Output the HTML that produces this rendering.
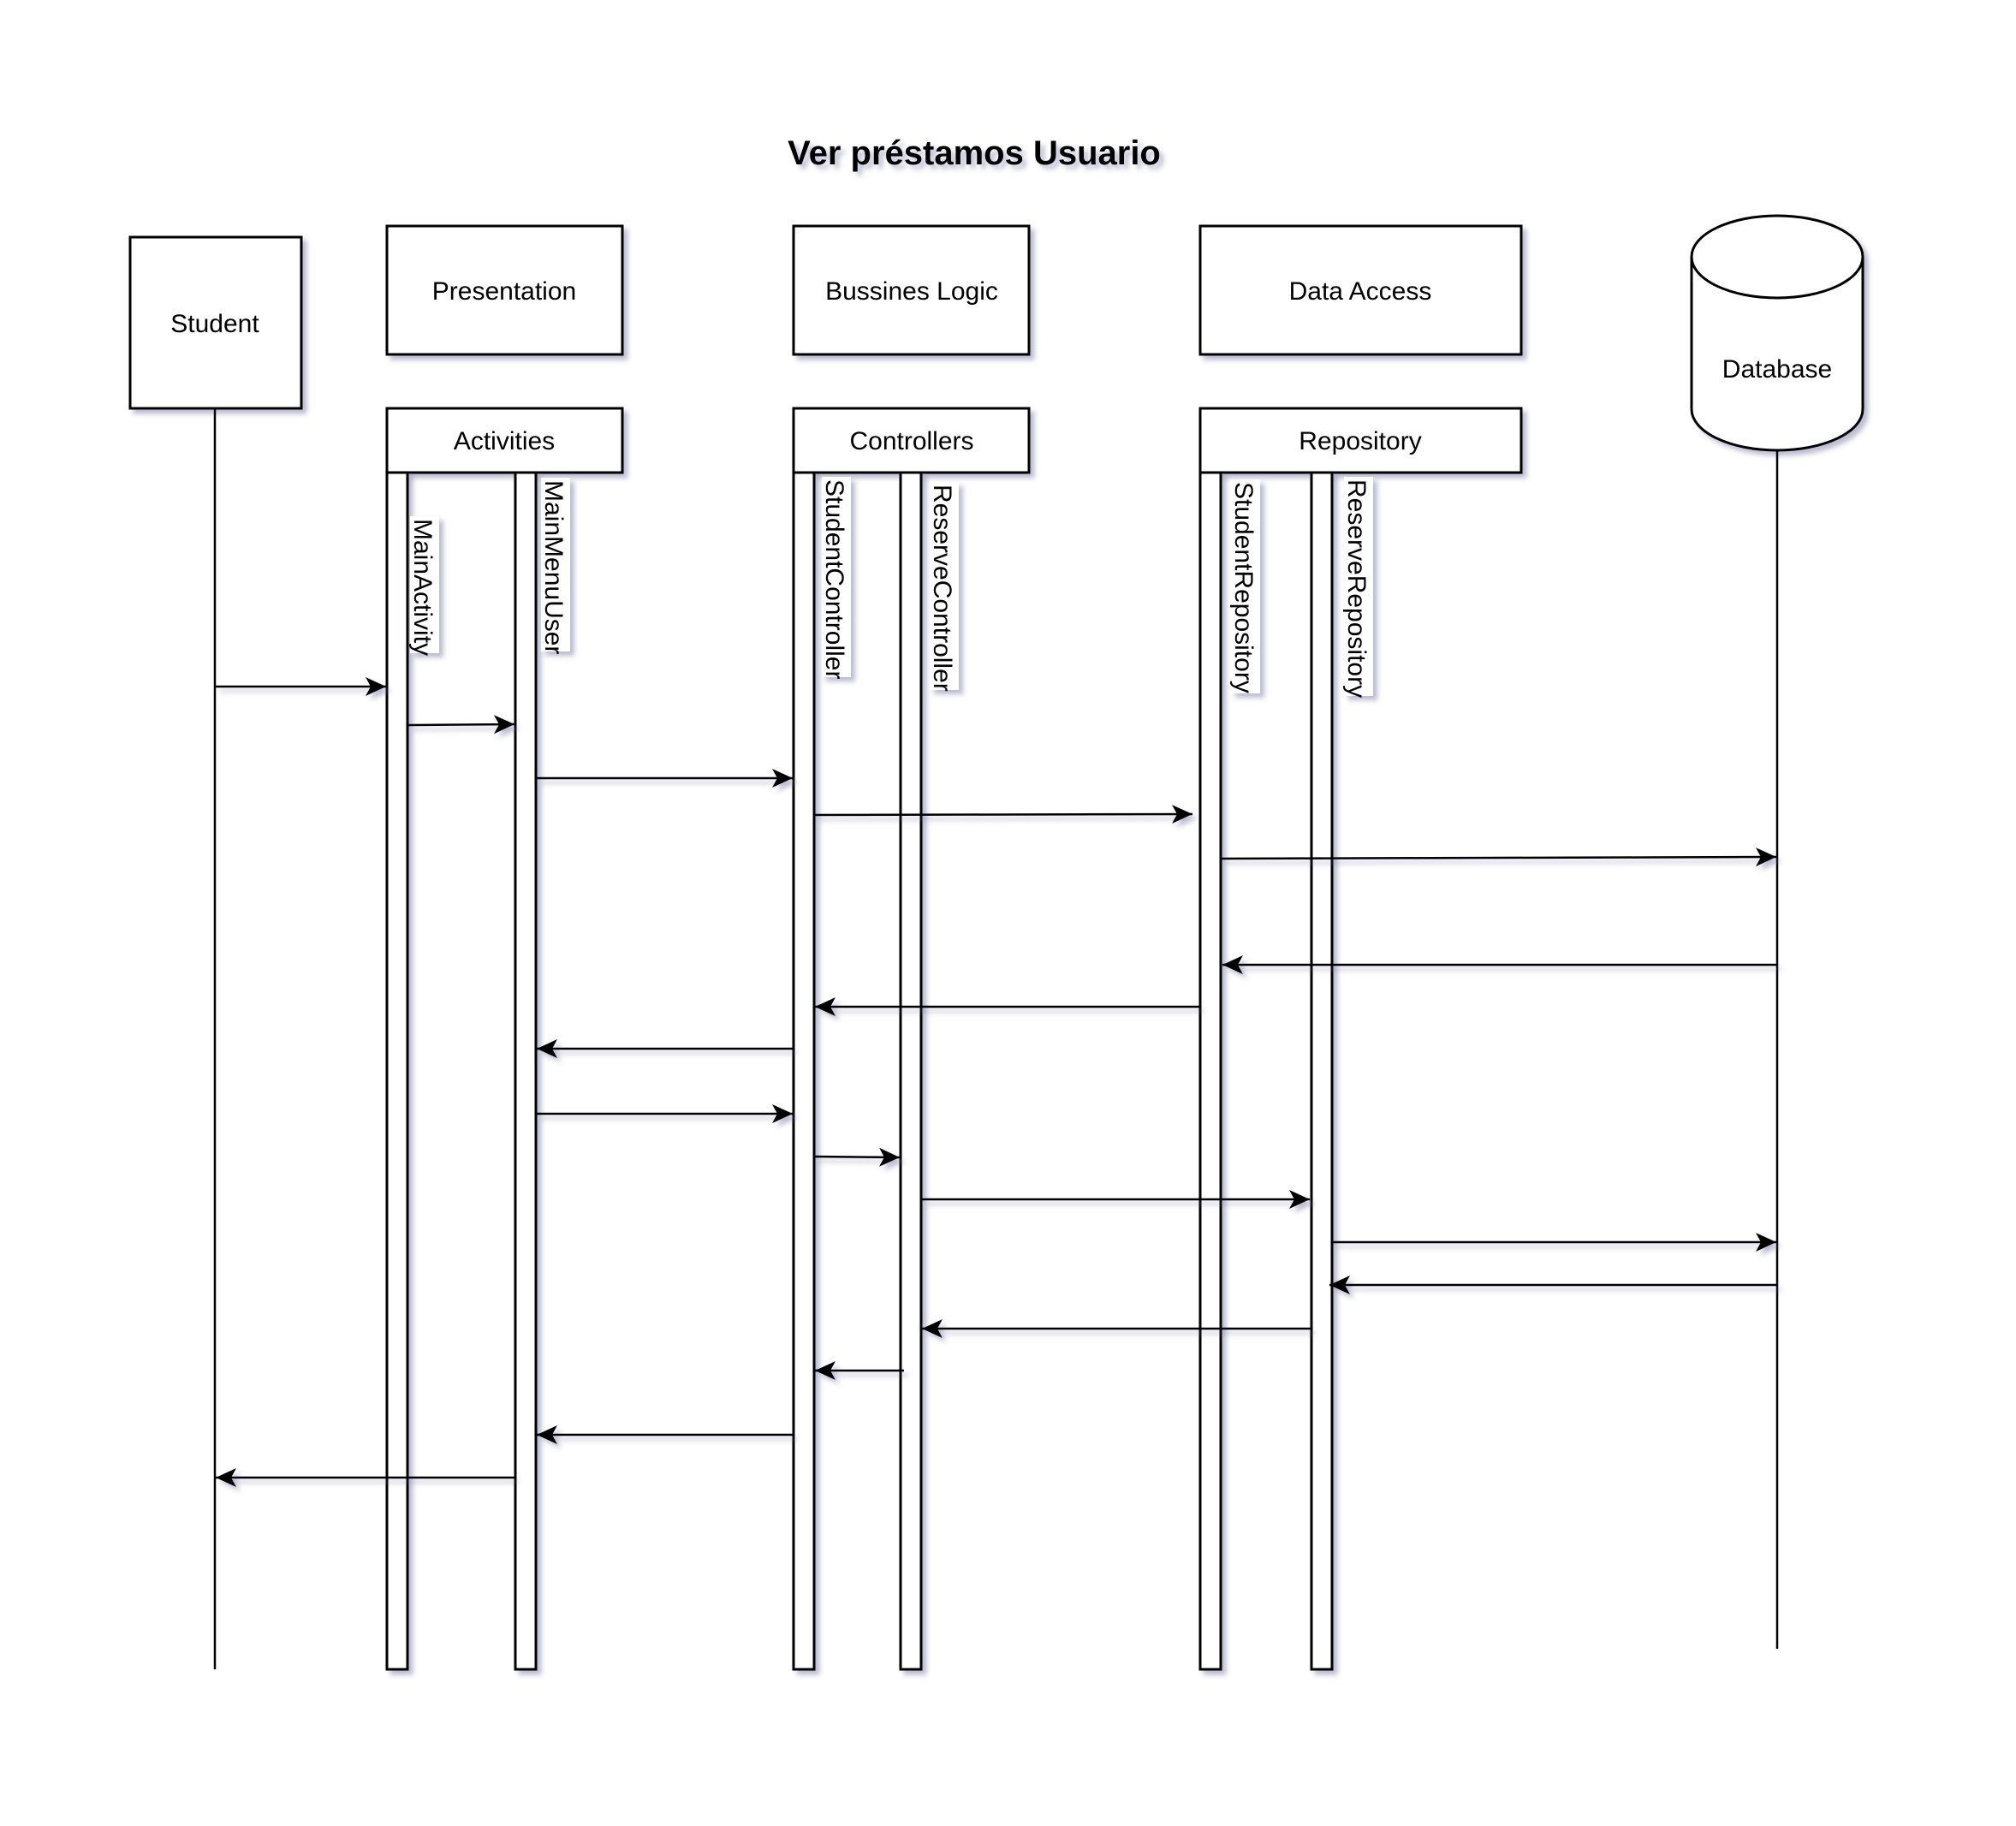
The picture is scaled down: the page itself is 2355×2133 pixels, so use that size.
<!DOCTYPE html>
<html><head><meta charset="utf-8"><style>
html,body{margin:0;padding:0;background:#fff;}
svg{display:block;}
text{font-family:"Liberation Sans",sans-serif;fill:#000;}
</style></head><body>
<svg width="2355" height="2133" viewBox="0 0 2355 2133" xmlns="http://www.w3.org/2000/svg">
<defs>
<filter id="sh" x="-20%" y="-20%" width="140%" height="140%">
<feDropShadow dx="5" dy="5" stdDeviation="3" flood-color="#6a6a9a" flood-opacity="0.45"/>
</filter>
<marker id="ar" markerWidth="28" markerHeight="24" refX="24" refY="12" orient="auto" markerUnits="userSpaceOnUse">
<path d="M24,12 L0,1 L6,12 L0,23 Z" fill="#000"/>
</marker>
</defs>

<text x="1138" y="192" font-size="40" font-weight="bold" text-anchor="middle" filter="url(#sh)">Ver préstamos Usuario</text>

<g fill="#fff" stroke="#000" stroke-width="3" filter="url(#sh)">
<rect x="152" y="277" width="200" height="200"/>
<rect x="452" y="264" width="275" height="150"/>
<rect x="452" y="477" width="275" height="75"/>
<rect x="927" y="264" width="275" height="150"/>
<rect x="927" y="477" width="275" height="75"/>
<rect x="1402" y="264" width="375" height="150"/>
<rect x="1402" y="477" width="375" height="75"/>
<path d="M1976,300 A100,48 0 0 1 2176,300 L2176,478 A100,48 0 0 1 1976,478 Z"/>
<path d="M1976,300 A100,48 0 0 0 2176,300" fill="none"/>
</g>

<g font-size="30" text-anchor="middle">
<text x="251" y="388">Student</text>
<text x="589" y="350">Presentation</text>
<text x="589" y="525">Activities</text>
<text x="1065" y="350">Bussines Logic</text>
<text x="1065" y="525">Controllers</text>
<text x="1589" y="350">Data Access</text>
<text x="1589" y="525">Repository</text>
<text x="2076" y="441">Database</text>
</g>

<g stroke="#000" stroke-width="2.5">
<line x1="251" y1="477" x2="251" y2="1950"/>
<line x1="2076" y1="526" x2="2076" y2="1926"/>
</g>
<g fill="#fff" stroke="#000" stroke-width="3" filter="url(#sh)">
<rect x="452" y="552" width="24" height="1398"/>
<rect x="602" y="552" width="24" height="1398"/>
<rect x="927" y="552" width="24" height="1398"/>
<rect x="1052" y="552" width="24" height="1398"/>
<rect x="1402" y="552" width="24" height="1398"/>
<rect x="1532" y="552" width="24" height="1398"/>
</g>

<g fill="#fff" filter="url(#sh)">
<rect x="479" y="603" width="34" height="160"/>
<rect x="632" y="558" width="34" height="203"/>
<rect x="960" y="557" width="34" height="234"/>
<rect x="1086" y="563" width="34" height="243"/>
<rect x="1438" y="560" width="34" height="250"/>
<rect x="1570" y="557" width="34" height="256"/>
</g>
<g font-size="30">
<text transform="translate(484,606) rotate(90)">MainActivity</text>
<text transform="translate(637,561) rotate(90)">MainMenuUser</text>
<text transform="translate(965,560) rotate(90)">StudentController</text>
<text transform="translate(1091,566) rotate(90)">ReserveController</text>
<text transform="translate(1443,563) rotate(90)">StudentRepository</text>
<text transform="translate(1575,560) rotate(90)">ReserveRepository</text>
</g>

<g stroke="#000" stroke-width="2.5" fill="none" marker-end="url(#ar)" filter="url(#sh)">
<line x1="252" y1="802" x2="451" y2="802"/>
<line x1="477" y1="847" x2="601" y2="846"/>
<line x1="627" y1="909" x2="926" y2="909"/>
<line x1="951" y1="952" x2="1393" y2="951"/>
<line x1="1427" y1="1003" x2="2075" y2="1001"/>
<line x1="2076" y1="1127" x2="1428" y2="1127"/>
<line x1="1401" y1="1176" x2="952" y2="1176"/>
<line x1="926" y1="1225" x2="627" y2="1225"/>
<line x1="627" y1="1301" x2="926" y2="1301"/>
<line x1="951" y1="1351" x2="1051" y2="1352"/>
<line x1="1077" y1="1401" x2="1530" y2="1401"/>
<line x1="1557" y1="1451" x2="2075" y2="1451"/>
<line x1="2076" y1="1501" x2="1553" y2="1501"/>
<line x1="1531" y1="1552" x2="1077" y2="1552"/>
<line x1="1056" y1="1601" x2="952" y2="1601"/>
<line x1="926" y1="1676" x2="627" y2="1676"/>
<line x1="601" y1="1726" x2="252" y2="1726"/>
</g>
</svg>
</body></html>
